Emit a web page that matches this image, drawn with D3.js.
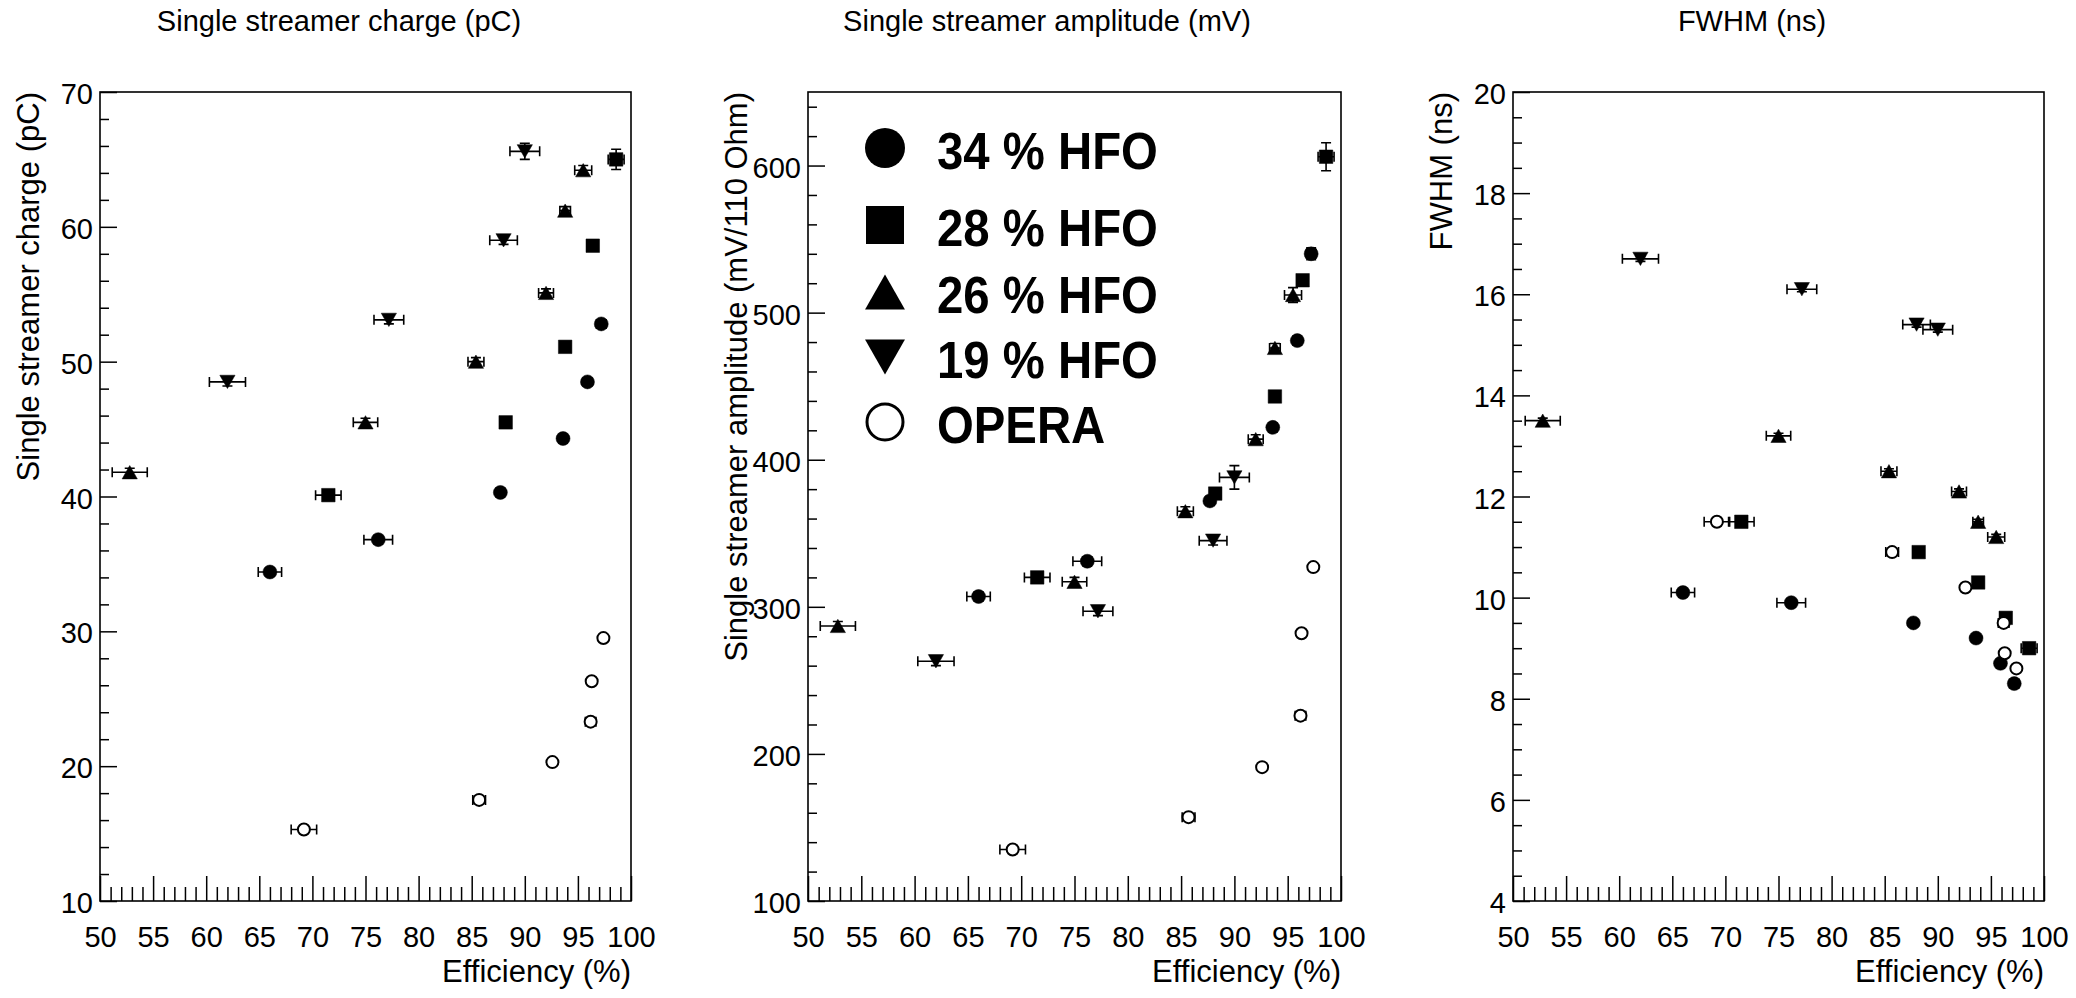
<!DOCTYPE html>
<html><head><meta charset="utf-8">
<script src="https://cdn.jsdelivr.net/npm/d3@7"></script>
<style>
body{margin:0;background:#fff;}
svg text{font-family:"Liberation Sans",Arial,Helvetica,sans-serif;fill:#000;}
</style>
</head><body>
<svg id="chart" width="2076" height="998"></svg>
<script>
// ---------------- DATA ----------------
const seriesNames   = ["34 % HFO", "28 % HFO", "26 % HFO", "19 % HFO", "OPERA"];
const seriesMarkers = ["circle", "square", "triangleUp", "triangleDown", "openCircle"];

// efficiency (%) and its error
const eff_34    = [66.0, 76.2, 87.7, 93.6, 95.9, 97.2];
const effErr_34 = [1.1, 1.35, 0.3, 0.3, 0.3, 0.45];
const eff_28    = [71.5, 88.2, 93.8, 96.4, 98.6];
const effErr_28 = [1.2, 0.5, 0.3, 0.3, 0.75];
const eff_26    = [52.8, 75.0, 85.4, 92.0, 93.8, 95.5];
const effErr_26 = [1.65, 1.15, 0.75, 0.7, 0.5, 0.8];
const eff_19    = [62.0, 77.2, 88.0, 90.0];
const effErr_19 = [1.7, 1.4, 1.3, 1.4];
const eff_op    = [69.2, 85.7, 92.6, 96.2, 96.3, 97.4];
const effErr_op = [1.2, 0.6, 0.3, 0.5, 0.3, 0.3];

// single streamer charge (pC)
const charge_34 = [34.4, 36.8, 40.3, 44.3, 48.5, 52.8];
const charge_28 = [40.1, 45.5, 51.1, 58.6, 65.0];
const charge_26 = [41.8, 45.5, 50.0, 55.1, 61.2, 64.2];
const charge_19 = [48.5, 53.1, 59.0, 65.6];
const charge_op = [15.3, 17.5, 20.3, 23.3, 26.3, 29.5];
const chargeErr_34 = [0.3, 0.3, 0.3, 0.3, 0.3, 0.3];
const chargeErr_28 = [0.3, 0.3, 0.3, 0.3, 0.75];
const chargeErr_26 = [0.3, 0.3, 0.3, 0.3, 0.3, 0.35];
const chargeErr_19 = [0.3, 0.3, 0.3, 0.6];
const chargeErr_op = [0.2, 0.2, 0.2, 0.2, 0.2, 0.2];

// single streamer amplitude (mV / 110 Ohm)
const amp_34 = [307, 331, 372, 422, 481, 540];
const amp_28 = [320, 377, 443, 522, 606];
const amp_26 = [287, 317, 365, 414, 476, 512];
const amp_19 = [263, 297, 345, 388];
const amp_op = [135, 157, 191, 226, 282, 327];
const ampErr_34 = [3, 3, 3, 3, 3, 4];
const ampErr_28 = [3, 3, 3, 3, 9.5];
const ampErr_26 = [3, 3, 3, 3, 3, 5];
const ampErr_19 = [3, 3, 3, 8];
const ampErr_op = [2, 2, 2, 2, 2, 2];

// FWHM (ns)
const fwhm_34 = [10.1, 9.9, 9.5, 9.2, 8.7, 8.3];
const fwhm_28 = [11.5, 10.9, 10.3, 9.6, 9.0];
const fwhm_26 = [13.5, 13.2, 12.5, 12.1, 11.5, 11.2];
const fwhm_19 = [16.7, 16.1, 15.4, 15.3];
const fwhm_op = [11.5, 10.9, 10.2, 9.5, 8.9, 8.6];
const fwhmErr_34 = [0.05, 0.05, 0.05, 0.05, 0.05, 0.05];
const fwhmErr_28 = [0.05, 0.05, 0.05, 0.05, 0.05];
const fwhmErr_26 = [0.05, 0.05, 0.05, 0.05, 0.05, 0.05];
const fwhmErr_19 = [0.05, 0.05, 0.05, 0.05];
const fwhmErr_op = [0.05, 0.05, 0.05, 0.05, 0.05, 0.05];

// axes / ticks
const xDomain      = [50, 100];
const xMajorTicks  = [50, 55, 60, 65, 70, 75, 80, 85, 90, 95, 100];
const xMinorStep   = 1;
const panelTitles  = ["Single streamer charge (pC)", "Single streamer amplitude (mV)", "FWHM (ns)"];
const yTitles      = ["Single streamer charge (pC)", "Single streamer amplitude (mV/110 Ohm)", "FWHM (ns)"];
const xTitle       = "Efficiency (%)";
const yDomains     = [[10, 70], [100, 650], [4, 20]];
const yMajorTicks  = [[10, 20, 30, 40, 50, 60, 70], [100, 200, 300, 400, 500, 600], [4, 6, 8, 10, 12, 14, 16, 18, 20]];
const yMinorSteps  = [2, 20, 0.5];

// ---------------- BUILD ----------------
const effs    = [eff_34, eff_28, eff_26, eff_19, eff_op];
const effErrs = [effErr_34, effErr_28, effErr_26, effErr_19, effErr_op];
const panelValues = [
  [charge_34, charge_28, charge_26, charge_19, charge_op],
  [amp_34, amp_28, amp_26, amp_19, amp_op],
  [fwhm_34, fwhm_28, fwhm_26, fwhm_19, fwhm_op]
];
const panelErrors = [
  [chargeErr_34, chargeErr_28, chargeErr_26, chargeErr_19, chargeErr_op],
  [ampErr_34, ampErr_28, ampErr_26, ampErr_19, ampErr_op],
  [fwhmErr_34, fwhmErr_28, fwhmErr_26, fwhmErr_19, fwhmErr_op]
];

// layout
const frameLefts  = [100, 808, 1513];
const frameRights = [631, 1341, 2044];
const frameTop = 92, frameBottom = 901;

const svg = d3.select("#chart");

function markerPath(type, s) {
  if (type === "circle" || type === "openCircle") {
    return d3.symbol(d3.symbolCircle, Math.PI * (s / 2) * (s / 2))();
  }
  if (type === "square") return d3.symbol(d3.symbolSquare, s * s)();
  const w = s * 1.05, h = s * 0.92;
  if (type === "triangleUp") return `M0,${-h/2}L${w/2},${h/2}L${-w/2},${h/2}Z`;
  return `M0,${h/2}L${w/2},${-h/2}L${-w/2},${-h/2}Z`;
}

function rangeSteps(a, b, step) {
  const out = [];
  for (let i = 0; a + i * step <= b + 1e-9; i++) out.push(+(a + i * step).toFixed(6));
  return out;
}

for (let p = 0; p < 3; p++) {
  const L = frameLefts[p], R = frameRights[p];
  const x = d3.scaleLinear().domain(xDomain).range([L, R]);
  const y = d3.scaleLinear().domain(yDomains[p]).range([frameBottom, frameTop]);
  const g = svg.append("g");

  g.append("text").attr("x", L + 239).attr("y", 31).attr("text-anchor", "middle")
    .style("font-size", "29px").text(panelTitles[p]);

  const xMinor = rangeSteps(xDomain[0], xDomain[1], xMinorStep).filter(v => !xMajorTicks.includes(v));
  g.append("g").attr("transform", `translate(0,${frameBottom})`)
    .call(d3.axisBottom(x).tickValues(xMinor).tickSize(-14).tickFormat(""))
    .call(a => a.select(".domain").remove());
  const xa = g.append("g").attr("transform", `translate(0,${frameBottom})`)
    .call(d3.axisBottom(x).tickValues(xMajorTicks).tickSize(-25).tickPadding(25).tickFormat(d3.format("d")))
    .call(a => a.select(".domain").remove());
  xa.selectAll("text").style("font-size", "29px");

  const yd = yDomains[p];
  const yMinor = rangeSteps(yd[0], yd[1], yMinorSteps[p]).filter(v => !yMajorTicks[p].includes(v));
  g.append("g").attr("transform", `translate(${L},0)`)
    .call(d3.axisLeft(y).tickValues(yMinor).tickSize(-9).tickFormat(""))
    .call(a => a.select(".domain").remove());
  const ya = g.append("g").attr("transform", `translate(${L},0)`)
    .call(d3.axisLeft(y).tickValues(yMajorTicks[p]).tickSize(-17).tickPadding(7).tickFormat(d3.format("d")))
    .call(a => a.select(".domain").remove());
  ya.selectAll("text").style("font-size", "29px").attr("dy", "0.40em");

  svg.selectAll(".tick line").attr("stroke", "#000").attr("stroke-width", 1.5);

  g.append("rect").attr("x", L).attr("y", frameTop).attr("width", R - L).attr("height", frameBottom - frameTop)
    .attr("fill", "none").attr("stroke", "#000").attr("stroke-width", 1.6);

  g.append("text").attr("x", R).attr("y", 982).attr("text-anchor", "end")
    .style("font-size", "31px").text(xTitle);
  g.append("text").attr("transform", `translate(${L - 61},${frameTop}) rotate(-90)`)
    .attr("text-anchor", "end").style("font-size", "31px").text(yTitles[p]);

  for (let s = 0; s < 5; s++) {
    const pts = effs[s].map((e, i) => ({
      e, ee: effErrs[s][i], v: panelValues[p][s][i], ve: panelErrors[p][s][i]
    }));
    const sg = g.append("g");
    const cap = 5;
    sg.selectAll("path.err").data(pts).join("path").attr("class", "err")
      .attr("d", d => {
        const cx = x(d.e), cy = y(d.v);
        const x1 = x(d.e - d.ee), x2 = x(d.e + d.ee);
        const y1 = y(d.v - d.ve), y2 = y(d.v + d.ve);
        return `M${x1},${cy}H${x2}M${x1},${cy - cap}V${cy + cap}M${x2},${cy - cap}V${cy + cap}` +
               `M${cx},${y1}V${y2}M${cx - cap},${y1}H${cx + cap}M${cx - cap},${y2}H${cx + cap}`;
      })
      .attr("stroke", "#000").attr("stroke-width", 1.6).attr("fill", "none");
    const type = seriesMarkers[s];
    sg.selectAll("path.mk").data(pts).join("path").attr("class", "mk")
      .attr("d", markerPath(type, type === "openCircle" ? 12 : (type.startsWith("tri") ? 14.5 : (type === "square" ? 13.5 : 14))))
      .attr("transform", d => `translate(${x(d.e)},${y(d.v)})`)
      .attr("fill", type === "openCircle" ? "#fff" : "#000")
      .attr("stroke", "#000")
      .attr("stroke-width", type === "openCircle" ? 2 : 0.5);
  }

  if (p === 1) {
    const legendRows = [148, 225, 292, 357, 422];
    const lg = g.append("g");
    seriesNames.forEach((name, i) => {
      const type = seriesMarkers[i];
      lg.append("path")
        .attr("d", markerPath(type, type === "openCircle" ? 36 : (type === "square" ? 38 : (type.startsWith("tri") ? 38 : 40))))
        .attr("transform", `translate(885,${legendRows[i]})`)
        .attr("fill", type === "openCircle" ? "#fff" : "#000")
        .attr("stroke", "#000").attr("stroke-width", type === "openCircle" ? 3 : 0);
      const t = lg.append("text").attr("x", 937).attr("y", legendRows[i] + 21)
        .style("font-size", "52px").style("font-weight", "bold").text(name);
      const w = t.node().getComputedTextLength();
      t.attr("textLength", w * 0.91).attr("lengthAdjust", "spacingAndGlyphs");
    });
  }
}
</script>
</body></html>
